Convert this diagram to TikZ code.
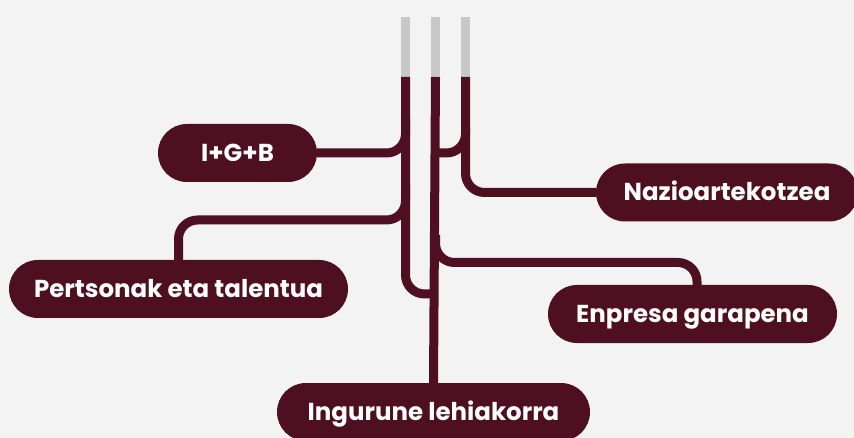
\documentclass[tikz,border=0pt]{standalone}
\usepackage{fontspec}
\setmainfont{Poppins}
\usetikzlibrary{positioning}
\definecolor{granate}{RGB}{78,16,33}
\definecolor{stubgray}{RGB}{200,200,200}
\definecolor{bggray}{RGB}{243,243,243}
\tikzset{
  pill/.style={fill=granate, text=white, rounded corners=28.9pt, minimum height=58pt,
    inner sep=0pt, text height=17pt, text depth=0pt, font=\bfseries\fontsize{24.5}{28}\selectfont},
  wire/.style={draw=granate, line width=9pt, rounded corners=19pt},
}
\begin{document}
\begin{tikzpicture}[x=1pt,y=-1pt]
\fill[bggray] (0,0) rectangle (854,438);
\useasboundingbox (0,0) rectangle (854,438);
\foreach \x in {405.5,435.5,465.5} {\draw[stubgray, line width=9pt] (\x,17) -- (\x,77);}
\coordinate (l1) at (405.5,77);
\coordinate (l2) at (435.5,77);
\coordinate (l3) at (465.5,77);
\node[pill, minimum width=159pt] (igb) at (237.5,153) {I+G+B};
\node[pill, minimum width=339pt] (pers) at (178.5,289) {Pertsonak eta talentua};
\node[pill, minimum width=262pt] (naz) at (727,192.5) {Nazioartekotzea};
\node[pill, minimum width=289pt] (enp) at (692.5,314) {Enpresa garapena};
\node[pill, minimum width=313pt] (ing) at (433.5,412) {Ingurune lehiakorra};
\draw[wire] (l1) |- (435.5,294);
\draw[wire] (405.5,118) |- (igb.east);
\draw[wire] (405.5,185) -- (405.5,220) -| (pers.north);
\draw[wire] (l3) |- (naz.west);
\draw[wire] (465.5,128) |- (435.5,153);
\draw[wire, rounded corners=0pt] (l2) -- (ing.north);
\draw[wire] (435.5,235) -- (435.5,262.5) -| ([xshift=4.5pt]enp.north);
\end{tikzpicture}
\end{document}
